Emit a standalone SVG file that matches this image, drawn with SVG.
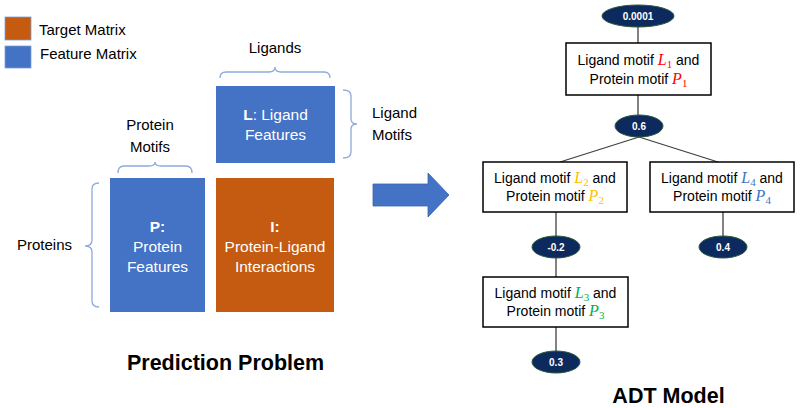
<svg xmlns="http://www.w3.org/2000/svg" width="800" height="408" viewBox="0 0 800 408">
<style>
.lbl{font-family:"Liberation Sans",Arial,sans-serif;font-size:15px;fill:#000}
.wt{font-family:"Liberation Sans",Arial,sans-serif;font-size:15.5px;fill:#fff;text-anchor:middle}
.ttl{font-family:"Liberation Sans",Arial,sans-serif;font-size:21.5px;font-weight:bold;fill:#000;text-anchor:middle}
.brace{fill:none;stroke:#8eaadb;stroke-width:1.3}
.box{fill:#fff;stroke:#000;stroke-width:1.5}
.tt{font-family:"Liberation Sans",Arial,sans-serif;font-size:14px;fill:#000;text-anchor:middle}
.m{font-family:"Liberation Serif","Times New Roman",serif;font-style:italic;font-size:16px}
.s{font-family:"Liberation Serif","Times New Roman",serif;font-size:11px}
.ell{fill:#0c2a5e;stroke:#2f5a3a;stroke-width:1}
.et{font-family:"Liberation Sans",Arial,sans-serif;font-size:10px;font-weight:bold;fill:#fff;text-anchor:middle}
.edge{stroke:#404040;stroke-width:1.3;fill:none}
</style>

<g id="legend">
<rect x="5" y="17" width="26" height="23" fill="#c55a11" stroke="#7f9fd8" stroke-width="0.8"/>
<text class="lbl" x="39" y="35" font-size="15.5">Target Matrix</text>
<rect x="5" y="46" width="26" height="22" fill="#4472c4" stroke="#7f9fd8" stroke-width="0.8"/>
<text class="lbl" x="40" y="59" font-size="15.5">Feature Matrix</text>
</g>

<g id="matrix-L">
<rect x="216" y="86" width="119" height="77" fill="#4472c4"/>
<text class="wt" x="275.5" y="120"><tspan font-weight="bold">L</tspan>: Ligand</text>
<text class="wt" x="275.5" y="140">Features</text>
</g>
<g id="matrix-P">
<rect x="110" y="178" width="95" height="134" fill="#4472c4"/>
<text class="wt" x="157.5" y="232" font-weight="bold">P:</text>
<text class="wt" x="157.5" y="252">Protein</text>
<text class="wt" x="157.5" y="272">Features</text>
</g>
<g id="matrix-I">
<rect x="216" y="178" width="118" height="134" fill="#c55a11"/>
<text class="wt" x="275" y="232" font-weight="bold">I:</text>
<text class="wt" x="275" y="252">Protein-Ligand</text>
<text class="wt" x="275" y="272">Interactions</text>
</g>

<g id="brace-ligands">
<path class="brace" d="M220,78 Q220,72 226,72 L269,72 Q275,72 275,67 Q275,72 281,72 L324,72 Q330,72 330,78"/>
<text class="lbl" x="275" y="53" text-anchor="middle">Ligands</text>
</g>
<g id="brace-ligand-motifs">
<path class="brace" d="M343,90 Q351,90 351,96 L351,119 Q351,124 357,124 Q351,124 351,129 L351,152 Q351,158 343,158"/>
<text class="lbl" x="372" y="118">Ligand</text>
<text class="lbl" x="372" y="140">Motifs</text>
</g>
<g id="brace-protein-motifs">
<path class="brace" d="M118,173 Q118,166 124,166 L149,166 Q155,166 155,162 Q155,166 161,166 L186,166 Q192,166 192,173"/>
<text class="lbl" x="150" y="130" text-anchor="middle">Protein</text>
<text class="lbl" x="150" y="152" text-anchor="middle">Motifs</text>
</g>
<g id="brace-proteins">
<path class="brace" d="M99,183 Q92,183 92,189 L92,240 Q92,246 85,246 Q92,246 92,252 L92,301 Q92,307 99,307"/>
<text class="lbl" x="17" y="250" font-size="15.5">Proteins</text>
</g>

<g id="big-arrow">
<path d="M373,184 L428,184 L428,173 L449,195 L428,217 L428,206 L373,206 Z" fill="#4472c4" stroke="#3b64b0" stroke-width="0.8"/>
</g>

<text class="ttl" x="225.5" y="370">Prediction Problem</text>
<text class="ttl" x="668.5" y="403">ADT Model</text>

<g id="connectors">
<line class="edge" x1="638" y1="27" x2="638" y2="43"/>
<line class="edge" x1="638" y1="95" x2="638" y2="115"/>
<line class="edge" x1="639" y1="137" x2="560" y2="162"/>
<line class="edge" x1="639" y1="137" x2="718" y2="162"/>
<line class="edge" x1="556" y1="212" x2="556" y2="236"/>
<line class="edge" x1="556" y1="258" x2="556" y2="277"/>
<line class="edge" x1="723" y1="212" x2="723" y2="236"/>
<line class="edge" x1="556" y1="327" x2="556" y2="351"/>
</g>

<g id="pred-root">
<ellipse class="ell" cx="638" cy="16" rx="36" ry="11"/>
<text class="et" x="638" y="20">0.0001</text>
</g>
<g id="split-1">
<rect class="box" x="566" y="43" width="145" height="52"/>
<text class="tt" x="638.5" y="65">Ligand motif <tspan class="m" fill="#ff0000">L</tspan><tspan class="s" fill="#ff0000" dy="3">1</tspan><tspan dy="-3"> and</tspan></text>
<text class="tt" x="638.5" y="84">Protein motif <tspan class="m" fill="#ff0000">P</tspan><tspan class="s" fill="#ff0000" dy="3">1</tspan></text>
</g>
<g id="pred-1">
<ellipse class="ell" cx="639" cy="126" rx="24" ry="11"/>
<text class="et" x="639" y="130">0.6</text>
</g>
<g id="split-2">
<rect class="box" x="483" y="162" width="144" height="50"/>
<text class="tt" x="555" y="183">Ligand motif <tspan class="m" fill="#ffc000">L</tspan><tspan class="s" fill="#ffc000" dy="3">2</tspan><tspan dy="-3"> and</tspan></text>
<text class="tt" x="555" y="201">Protein motif <tspan class="m" fill="#ffc000">P</tspan><tspan class="s" fill="#ffc000" dy="3">2</tspan></text>
</g>
<g id="split-4">
<rect class="box" x="650" y="162" width="144" height="50"/>
<text class="tt" x="722" y="183">Ligand motif <tspan class="m" fill="#4472c4">L</tspan><tspan class="s" fill="#4472c4" dy="3">4</tspan><tspan dy="-3"> and</tspan></text>
<text class="tt" x="722" y="201">Protein motif <tspan class="m" fill="#4472c4">P</tspan><tspan class="s" fill="#4472c4" dy="3">4</tspan></text>
</g>
<g id="pred-2">
<ellipse class="ell" cx="556" cy="247" rx="24" ry="11"/>
<text class="et" x="556" y="251">-0.2</text>
</g>
<g id="pred-4">
<ellipse class="ell" cx="723" cy="247" rx="24" ry="11"/>
<text class="et" x="723" y="251">0.4</text>
</g>
<g id="split-3">
<rect class="box" x="483" y="277" width="145" height="50"/>
<text class="tt" x="555.5" y="298">Ligand motif <tspan class="m" fill="#00b050">L</tspan><tspan class="s" fill="#00b050" dy="3">3</tspan><tspan dy="-3"> and</tspan></text>
<text class="tt" x="555.5" y="316">Protein motif <tspan class="m" fill="#00b050">P</tspan><tspan class="s" fill="#00b050" dy="3">3</tspan></text>
</g>
<g id="pred-3">
<ellipse class="ell" cx="556" cy="362" rx="24" ry="11"/>
<text class="et" x="556" y="366">0.3</text>
</g>
</svg>
